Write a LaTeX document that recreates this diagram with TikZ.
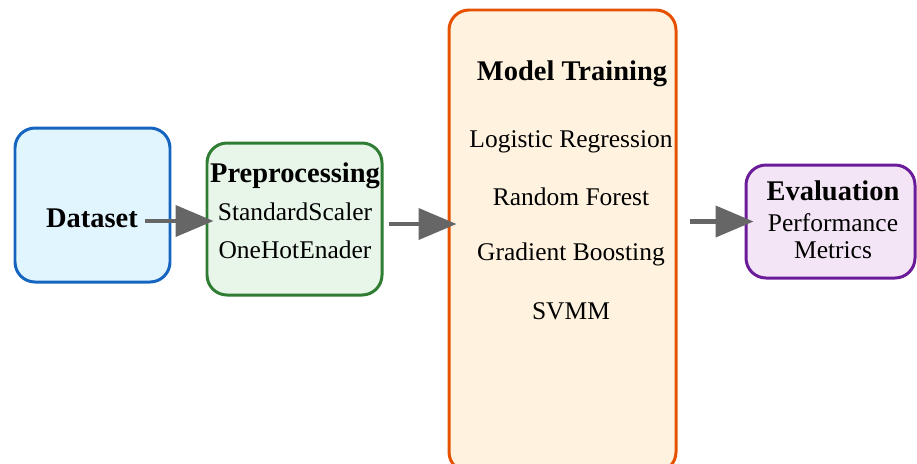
\documentclass[tikz,border=0pt]{standalone}
\usepackage{fontspec}
\setmainfont{Liberation Serif}
\usetikzlibrary{arrows.meta}
\definecolor{dsline}{HTML}{1565C0}
\definecolor{dsfill}{HTML}{E1F5FE}
\definecolor{ppline}{HTML}{2E7D32}
\definecolor{ppfill}{HTML}{E8F5E9}
\definecolor{mtline}{HTML}{E65100}
\definecolor{mtfill}{HTML}{FFF3E0}
\definecolor{evline}{HTML}{6A1B9A}
\definecolor{evfill}{HTML}{F3E5F5}
\definecolor{flowgray}{HTML}{666666}
\tikzset{
  stagebox/.style={draw, line width=1.7pt, rounded corners=0.4cm, inner sep=0pt},
  lbl/.style={font=\fontsize{14.5}{17}\selectfont, inner sep=1pt},
  head/.style={lbl, font=\fontsize{16.2}{19}\selectfont\bfseries},
  flow/.style={draw=flowgray, line width=2.3pt, -{Triangle[length=0.76cm, width=0.62cm]}}
}
\begin{document}
\begin{tikzpicture}
  \useasboundingbox (0,0) rectangle (18.34,-9.26);
  \node[stagebox, draw=dsline, fill=dsfill, minimum width=3.1cm, minimum height=3.08cm] (dataset) at (1.85,-4.10) {};
  \node[stagebox, draw=ppline, fill=ppfill, minimum width=3.5cm, minimum height=3.04cm] (prep) at (5.89,-4.38) {};
  \node[stagebox, draw=mtline, fill=mtfill, minimum width=4.54cm, minimum height=9.24cm] (train) at (11.25,-4.82) {};
  \node[stagebox, draw=evline, fill=evfill, minimum width=3.38cm, minimum height=2.26cm] (eval) at (16.61,-4.43) {};
  \node[head] (datasetlbl) at (1.84,-4.36) {Dataset};
  \node[head] (preplbl) at (5.9,-3.52) {Preprocessing};
  \node[lbl] (scaler) at (5.9,-4.24) {StandardScaler};
  \node[lbl] (onehot) at (5.9,-5.0) {OneHotEnader};
  \node[head] (trainlbl) at (11.44,-1.48) {Model Training};
  \node[lbl] (logreg) at (11.42,-2.84) {Logistic Regression};
  \node[lbl] (forest) at (11.42,-3.94) {Random Forest};
  \node[lbl] (boost) at (11.42,-5.08) {Gradient Boosting};
  \node[lbl] (svm) at (11.42,-6.22) {SVMM};
  \node[head] (evallbl) at (16.66,-3.82) {Evaluation};
  \node[lbl] (perf) at (16.66,-4.46) {Performance};
  \node[lbl] (metrics) at (16.66,-5.0) {Metrics};
  \draw[flow] ([shift={(0.1,-0.06)}]datasetlbl.east) -- ([shift={(0.16,-0.06)}]datasetlbl.east -| prep.west);
  \draw[flow] ([shift={(0.1,-0.1)}]prep.east) -- ([shift={(0.18,-0.1)}]prep.east -| train.west);
  \draw[flow] ([xshift=0.24cm]eval.west -| train.east) -- ([xshift=0.18cm]eval.west);
\end{tikzpicture}
\end{document}
